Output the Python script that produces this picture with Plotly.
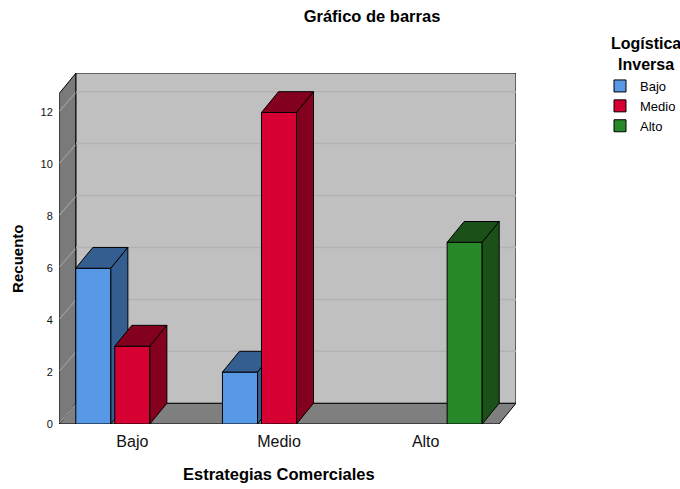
import plotly.graph_objects as go

# ---- data ----
categories = ["Bajo", "Medio", "Alto"]          # Estrategias Comerciales
series_names = ["Bajo", "Medio", "Alto"]        # Logística Inversa
values_bajo = [6, 2, 0]
values_medio = [3, 12, 0]
values_alto = [0, 0, 7]
y_ticks = [0, 2, 4, 6, 8, 10, 12]

series_values = [values_bajo, values_medio, values_alto]
front_colors = ["#5799e6", "#d70032", "#28892a"]
dark_colors = ["#345e8f", "#83001f", "#1b5119"]

# ---- pseudo-3D geometry (in axis units) ----
DX = 0.116      # depth along x
DY = 0.80       # depth along y
WALL_TOP = 12.72
SLOT = 0.266
BAR_W = 0.239
X_LO, X_HI = -0.5, len(categories) - 0.5

fig = go.Figure()
shapes = []

def poly(pts):
    return "M " + " L ".join(f"{x},{y}" for x, y in pts) + " Z"

# floor
shapes.append(dict(type="path", xref="x", yref="y", layer="below",
                   path=poly([(X_LO, 0), (X_HI, 0), (X_HI + DX, DY), (X_LO + DX, DY)]),
                   fillcolor="#7f7f7f", line=dict(color="black", width=1)))
# left wall
shapes.append(dict(type="path", xref="x", yref="y", layer="below",
                   path=poly([(X_LO, 0), (X_LO + DX, DY), (X_LO + DX, WALL_TOP + DY), (X_LO, WALL_TOP)]),
                   fillcolor="#7a7a7a", line=dict(color="black", width=1)))
# back wall
shapes.append(dict(type="path", xref="x", yref="y", layer="below",
                   path=poly([(X_LO + DX, DY), (X_HI + DX, DY), (X_HI + DX, WALL_TOP + DY), (X_LO + DX, WALL_TOP + DY)]),
                   fillcolor="#c0c0c0", line=dict(color="black", width=1)))
# grid lines
for v in y_ticks:
    if v > 0:
        shapes.append(dict(type="line", xref="x", yref="y", layer="below",
                           x0=X_LO + DX, x1=X_HI + DX, y0=v + DY, y1=v + DY,
                           line=dict(color="#b2b2b2", width=1.5)))
    shapes.append(dict(type="line", xref="x", yref="y", layer="below",
                       x0=X_LO + 0.004, x1=X_LO + DX - 0.004, y0=v + 0.05, y1=v + DY - 0.05,
                       line=dict(color="#9a9a9a", width=1.2)))

# bars (left to right so that later faces cover earlier side faces)
for c in range(len(categories)):
    for s in range(len(series_names)):
        h = series_values[s][c]
        if h <= 0:
            continue
        xc = c + (s - 1) * SLOT
        x0, x1 = xc - BAR_W / 2, xc + BAR_W / 2
        faces = [
            ([x0, x1, x1, x0, x0], [0, 0, h, h, 0], front_colors[s]),
            ([x0, x1, x1 + DX, x0 + DX, x0], [h, h, h + DY, h + DY, h], dark_colors[s]),
            ([x1, x1 + DX, x1 + DX, x1, x1], [0, DY, h + DY, h, 0], dark_colors[s]),
        ]
        for fx, fy, col in faces:
            fig.add_trace(go.Scatter(x=fx, y=fy, mode="lines", fill="toself",
                                     fillcolor=col, line=dict(color="black", width=1),
                                     hoverinfo="skip", showlegend=False))

# legend entries
for s, name in enumerate(series_names):
    fig.add_trace(go.Scatter(x=[None], y=[None], mode="markers", name=name,
                             marker=dict(symbol="square", size=12, color=front_colors[s],
                                         line=dict(color="black", width=1))))

font_family = "Liberation Sans, Arial, sans-serif"

fig.update_layout(
    width=680, height=489,
    margin=dict(l=59, r=164, t=73, b=65, autoexpand=False),
    paper_bgcolor="white", plot_bgcolor="white",
    font=dict(family=font_family, color="#000000"),
    shapes=shapes,
    showlegend=True,
    legend=dict(x=(600 - 59) / 457, y=(424 - 71) / 351, xanchor="left", yanchor="top",
                font=dict(size=13, family=font_family, color="#000"),
                itemsizing="trace", tracegroupgap=0,
                bgcolor="rgba(0,0,0,0)"),
    title=dict(text="<b>Gráfico de barras</b>", x=372 / 680, xanchor="center",
               y=1 - 16 / 489, yanchor="middle", xref="container", yref="container",
               font=dict(size=16.5, family=font_family, color="#000")),
    annotations=[
        dict(text="<b>Estrategias Comerciales</b>", xref="x", yref="paper",
             x=1, y=-50 / 351, xanchor="center", yanchor="middle", showarrow=False,
             font=dict(size=16.5, family=font_family, color="#000")),
        dict(text="<b>Recuento</b>", xref="paper", yref="y",
             x=-41 / 457, y=WALL_TOP / 2, xanchor="center", yanchor="middle",
             textangle=-90, showarrow=False,
             font=dict(size=15, family=font_family, color="#000")),
        dict(text="<b>Logística<br>Inversa</b>", xref="paper", yref="paper",
             x=(646 - 59) / 457, y=(424 - 54) / 351, xanchor="center", yanchor="middle",
             showarrow=False, align="center",
             font=dict(size=16, family=font_family, color="#000")),
    ],
)
fig.update_xaxes(range=[X_LO, X_HI + DX], tickvals=list(range(len(categories))),
                 ticktext=categories, showgrid=False, zeroline=False, showline=False,
                 ticks="outside", ticklen=3, tickcolor="rgba(0,0,0,0)",
                 tickfont=dict(size=16, family=font_family, color="#111"), fixedrange=True)
fig.update_yaxes(range=[0, WALL_TOP + DY], tickvals=y_ticks,
                 showgrid=False, zeroline=False, showline=False,
                 ticks="outside", ticklen=3, tickcolor="rgba(0,0,0,0)",
                 tickfont=dict(size=11, family=font_family, color="#111"), fixedrange=True)

fig.write_html("out.html", config={"displayModeBar": False},
               post_script="document.body.style.margin='0px';document.body.style.overflow='hidden';")
